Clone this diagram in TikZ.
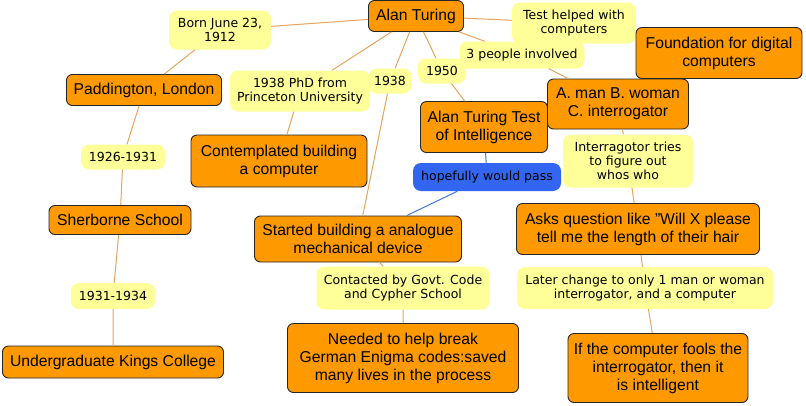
\documentclass[tikz,border=0pt]{standalone}
\usepackage{fontspec}
\setmainfont{Liberation Sans}
\newfontfamily\linkfont{DejaVu Sans}
\definecolor{conceptfill}{HTML}{FF9900}
\definecolor{linkfill}{HTML}{FFFF99}
\definecolor{passfill}{HTML}{3366F0}
\definecolor{linkline}{HTML}{E9A45C}
\definecolor{passline}{HTML}{4477DD}
\begin{document}
\begin{tikzpicture}[x=1pt, y=-1pt,
    concept/.style={draw=black!85, fill=conceptfill, rounded corners=6pt, line width=0.9pt,
      align=center, inner sep=0pt, font=\fontsize{15.7}{18}\selectfont},
    linkword/.style={fill=linkfill, rounded corners=8pt, align=center, inner sep=0pt,
      font=\linkfont\fontsize{12.5}{14.3}\selectfont},
    password/.style={linkword, fill=passfill},
    sz/.style 2 args={minimum width=#1pt, minimum height=#2pt},
    link/.style={linkline, line width=1pt},
    passlink/.style={passline, line width=1pt}]
      \path[fill=white] (0,0) rectangle (806,405);

      % Main concept
      \node[concept, sz={95}{31}] (alan) at (416,16) {Alan Turing};

      % Early life, left branch
      \node[linkword, sz={102}{39}] (born) at (220,30) {Born June 23,\\1912};
      \node[concept, sz={155}{31}] (padd) at (144,90) {Paddington, London};
      \node[linkword, sz={84}{25}] (y1926) at (123,157) {1926-1931};
      \node[concept, sz={142}{29}] (sherb) at (120,220) {Sherborne School};
      \node[linkword, sz={84}{26}] (y1931) at (113,296) {1931-1934};
      \node[concept, sz={221}{32}] (kings) at (113,362) {Undergraduate Kings College};

      % PhD and the machine
      \node[linkword, sz={140}{41}] (phd) at (300,91) {1938 PhD from\\Princeton University};
      \node[concept, sz={176}{52}] (contempl) at (279,161) {Contemplated building\\a computer};
      \node[linkword, sz={43}{25}] (y1938) at (390,81) {1938};
      \node[concept, sz={207}{46}] (analog) at (358,239) {Started building a analogue\\mechanical device};
      \node[linkword, sz={173}{43}] (govt) at (403,288) {Contacted by Govt. Code\\and Cypher School};
      \node[concept, sz={231}{69}] (enigma) at (403,358) {Needed to help break\\German Enigma codes:saved\\many lives in the process};

      % The test
      \node[linkword, sz={124}{41}] (helped) at (574,23) {Test helped with\\computers};
      \node[concept, sz={166}{51}] (found) at (719,53) {Foundation for digital\\computers};
      \node[linkword, sz={125}{27}] (people) at (522,55) {3 people involved};
      \node[linkword, sz={48}{25}] (y1950) at (442,71) {1950};
      \node[concept, sz={141}{50}] (roles) at (618,104) {A. man B. woman\\C. interrogator};
      \node[concept, sz={127}{51}] (ttest) at (484,127) {Alan Turing Test\\of Intelligence};
      \node[password, sz={148}{28}] (pass) at (487,177) {hopefully would pass};
      \node[linkword, sz={130}{53}] (figure) at (628,161) {Interragotor tries\\to figure out\\whos who};
      \node[concept, sz={243}{51}] (asks) at (638,229) {Asks question like "Will X please\\tell me the length of their hair};
      \node[linkword, sz={256}{42}] (later) at (645,288) {Later change to only 1 man or woman\\interrogator, and a computer};
      \node[concept, sz={180}{69}] (fools) at (658,368) {If the computer fools the\\interrogator, then it\\is intelligent};

      % Connectors
      \draw[link] (alan) -- (born) -- (padd) -- (y1926) -- (sherb) -- (y1931) -- (kings);
      \draw[link] (alan) -- (phd) -- (contempl);
      \draw[link] (alan) -- (y1938) -- (analog) -- (govt) -- (enigma);
      \draw[link] (alan) -- (y1950) -- (ttest);
      \draw[link] (alan) -- (helped) -- (found);
      \draw[link] (alan) -- (people) -- (roles);
      \draw[link] (roles) -- (figure) -- (asks) -- (later) -- (fools);
      \draw[passlink] (ttest) -- (pass) -- (analog);
    \end{tikzpicture}
\end{document}
